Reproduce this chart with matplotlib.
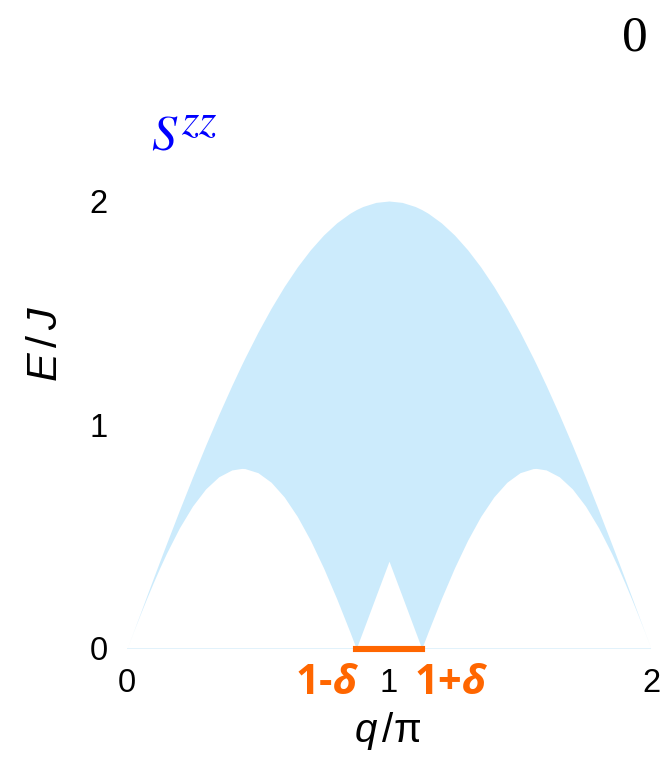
import matplotlib
matplotlib.use("Agg")
import matplotlib.pyplot as plt
from matplotlib.transforms import ScaledTranslation

plt.rcParams['mathtext.fontset'] = 'custom'
plt.rcParams['mathtext.rm'] = 'Liberation Sans'
plt.rcParams['mathtext.it'] = 'Liberation Sans:italic'
plt.rcParams['mathtext.bf'] = 'Open Sans:bold'
plt.rcParams['mathtext.bfit'] = 'Open Sans:italic:bold'

# Momentum grid (units of pi) and continuum boundaries (units of J)
q = [0, 0.025, 0.05, 0.075, 0.1, 0.125, 0.15, 0.2, 0.25, 0.3, 0.35, 0.4,
     0.4375, 0.45, 0.5, 0.55, 0.6, 0.65, 0.7, 0.75, 0.8, 0.85, 0.875, 0.9,
     0.95, 1.0, 1.05, 1.1, 1.125, 1.15, 1.2, 1.25, 1.3, 1.35, 1.4, 1.45,
     1.5, 1.55, 1.5625, 1.6, 1.65, 1.7, 1.75, 1.8, 1.85, 1.875, 1.9, 1.925,
     1.95, 1.975, 2.0]

upper = [0, 0.0776, 0.1558, 0.2344, 0.3126, 0.3902, 0.4669, 0.6180, 0.7654,
         0.9080, 1.0450, 1.1756, 1.2688, 1.2989, 1.4142, 1.5208, 1.6180,
         1.7053, 1.7820, 1.8478, 1.9021, 1.9447, 1.9616, 1.9754, 1.9938, 2.0,
         1.9938, 1.9754, 1.9616, 1.9447, 1.9021, 1.8478, 1.7820, 1.7053,
         1.6180, 1.5208, 1.4142, 1.2989, 1.2688, 1.1756, 1.0450, 0.9080,
         0.7654, 0.6180, 0.4669, 0.3902, 0.3126, 0.2344, 0.1558, 0.0776, 0]

lower = [0, 0.0764, 0.1510, 0.2236, 0.2935, 0.3605, 0.4240, 0.5392, 0.6364,
         0.7131, 0.7674, 0.7980, 0.8049, 0.8041, 0.7857, 0.7431, 0.6774,
         0.5902, 0.4837, 0.3605, 0.2236, 0.0764, 0, 0.0776, 0.2344, 0.3902,
         0.2344, 0.0776, 0, 0.0764, 0.2236, 0.3605, 0.4837, 0.5902, 0.6774,
         0.7431, 0.7857, 0.8041, 0.8049, 0.7980, 0.7674, 0.7131, 0.6364,
         0.5392, 0.4240, 0.3605, 0.2935, 0.2236, 0.1510, 0.0764, 0]

delta = 0.125
ticks = [0, 1, 2]
tick_labels = ["0", "1", "2"]
gap_labels = [r"1-$\boldsymbol{\delta}$", r"1+$\boldsymbol{\delta}$"]

fill_color = "#CCEBFC"
orange = "#FF6600"

W, H = 666, 757
fig = plt.figure(figsize=(W / 100, H / 100), dpi=100)
ax = fig.add_axes([127 / W, (H - 648.5) / H, 524 / W, 447.5 / H])

ax.fill_between(q, lower, upper, color=fill_color, linewidth=0)
ax.axhline(0, color="#DDF0FB", linewidth=1.2, zorder=1)
ax.plot([1 - delta, 1 + delta], [0, 0], color=orange, linewidth=4.4,
        solid_capstyle="projecting", zorder=3, clip_on=False)

ax.set_xlim(0, 2)
ax.set_ylim(0, 2)
for s in ax.spines.values():
    s.set_visible(False)
ax.set_xticks(ticks)
ax.set_xticklabels(tick_labels)
ax.set_yticks(ticks)
ax.set_yticklabels(tick_labels)
ax.tick_params(axis="both", length=0, labelsize=23.5)
ax.tick_params(axis="x", pad=14)
ax.tick_params(axis="y", pad=14)
for lab in ax.get_xticklabels() + ax.get_yticklabels():
    lab.set_fontfamily("Liberation Sans")

# orange labels either side of the "1" tick
below = ax.transData + ScaledTranslation(0, -35 / 100, fig.dpi_scale_trans)
for xv, txt in zip([1 - 1.9 * delta, 1 + 1.9 * delta], gap_labels):
    ax.text(xv, 0, txt, transform=below, color=orange, fontsize=30,
            fontfamily="Open Sans", fontweight="bold", ha="center",
            va="center", math_fontfamily="custom")

fig.text(388 / W, 1 - 731 / H, r"$q\,$/π", fontsize=29,
         fontfamily="Liberation Sans", ha="center", va="center",
         math_fontfamily="custom")
fig.text(46 / W, 1 - 344 / H, r"$E\,/\,J$", fontsize=31, rotation=90,
         fontfamily="Liberation Sans", ha="center", va="center",
         math_fontfamily="custom")

# structure-factor label: S with a zz superscript
fig.text(165 / W, 1 - 135 / H, r"$S$", fontsize=36, color="#0000FF",
         ha="center", va="center", math_fontfamily="stix")
fig.text(199 / W, 1 - 122 / H, r"$zz$", fontsize=32, color="#0000FF",
         ha="center", va="center", math_fontfamily="stix")
fig.text(634.5 / W, 1 - 38 / H, "0", fontsize=37,
         fontfamily="Liberation Serif", ha="center", va="center")

fig.savefig("out.png", dpi=100)
